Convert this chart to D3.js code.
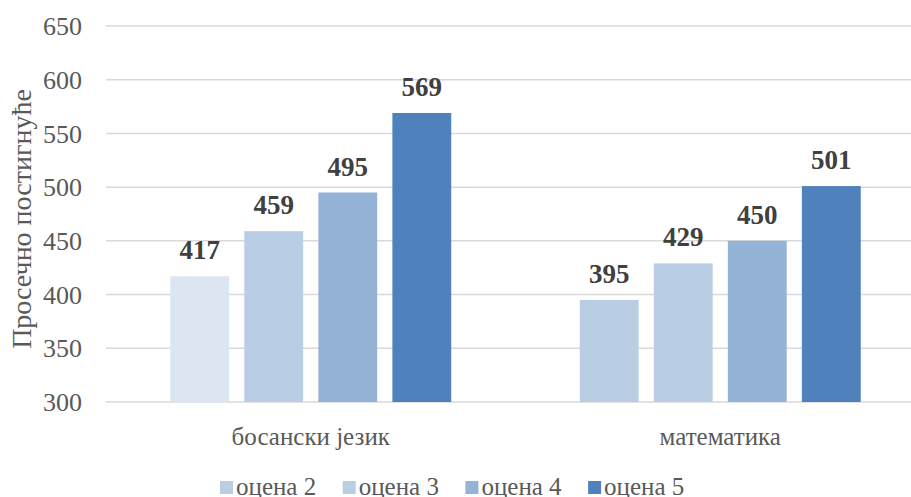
<!DOCTYPE html>
<html>
<head>
<meta charset="utf-8">
<script src="https://cdn.jsdelivr.net/npm/d3@7"></script>
</head>
<body style="margin:0">
<script>
const categories = ['босански језик', 'математика'];
const seriesNames = ['оцена 2', 'оцена 3', 'оцена 4', 'оцена 5'];
const ocena2 = [417, 395];
const ocena3 = [459, 429];
const ocena4 = [495, 450];
const ocena5 = [569, 501];
const yTicks = [300, 350, 400, 450, 500, 550, 600, 650];
const yTitle = 'Просечно постигнуће';

const seriesValues = [ocena2, ocena3, ocena4, ocena5];
const colors = ['#b9cde5', '#b9cde5', '#95b3d7', '#4f81bd'];
// first bar of the first group is lighter in the original
const pointColor = (s, c) => (s === 0 && c === 0) ? '#dce6f2' : colors[s];

const width = 911, height = 497;
const plot = { left: 106, right: 925, top: 26, bottom: 402 };
const serif = '"Liberation Serif", "Times New Roman", Tinos';

const svg = d3.select('body').append('svg')
    .attr('width', width)
    .attr('height', height)
    .style('display', 'block')
    .style('font-family', serif);

const y = d3.scaleLinear()
    .domain([300, 650])
    .range([plot.bottom, plot.top]);

const x0 = d3.scaleBand()
    .domain(categories)
    .range([plot.left, plot.right]);

const groupWidth = 281;
const x1 = d3.scaleBand()
    .domain(d3.range(seriesNames.length))
    .range([(x0.bandwidth() - groupWidth) / 2, (x0.bandwidth() + groupWidth) / 2])
    .paddingInner(0.205);

// gridlines
svg.append('g')
    .selectAll('line')
    .data(yTicks)
    .join('line')
    .attr('x1', plot.left)
    .attr('x2', plot.right)
    .attr('y1', d => y(d))
    .attr('y2', d => y(d))
    .attr('stroke', '#d9d9d9')
    .attr('stroke-width', 1.5);

// tick labels
svg.append('g')
    .selectAll('text')
    .data(yTicks)
    .join('text')
    .attr('x', 82)
    .attr('y', d => y(d))
    .attr('dy', '0.35em')
    .attr('text-anchor', 'end')
    .attr('font-size', 26)
    .style('font-family', serif)
    .attr('fill', '#595959')
    .text(d => d);

// y title
svg.append('text')
    .attr('transform', `translate(31, 219) rotate(-90)`)
    .attr('text-anchor', 'middle')
    .attr('font-size', 28)
    .style('font-family', serif)
    .attr('fill', '#595959')
    .text(yTitle);

const cells = [];
seriesValues.forEach((vals, s) => {
    vals.forEach((v, c) => cells.push({ s, c, v }));
});

const bars = svg.append('g');
bars.selectAll('rect')
    .data(cells)
    .join('rect')
    .attr('x', d => x0(categories[d.c]) + x1(d.s))
    .attr('y', d => y(d.v))
    .attr('width', x1.bandwidth())
    .attr('height', d => y(300) - y(d.v))
    .attr('fill', d => pointColor(d.s, d.c));

bars.selectAll('text')
    .data(cells)
    .join('text')
    .attr('x', d => x0(categories[d.c]) + x1(d.s) + x1.bandwidth() / 2)
    .attr('y', d => y(d.v) - 17)
    .attr('text-anchor', 'middle')
    .attr('font-size', 27)
    .attr('font-weight', 'bold')
    .style('font-family', serif)
    .attr('fill', '#404040')
    .text(d => d.v);

// category labels
svg.append('g')
    .selectAll('text')
    .data(categories)
    .join('text')
    .attr('x', d => x0(d) + x0.bandwidth() / 2)
    .attr('y', 445)
    .attr('text-anchor', 'middle')
    .attr('font-size', 25)
    .style('font-family', serif)
    .attr('fill', '#595959')
    .text(d => d);

// legend
const legend = svg.append('g')
    .selectAll('g')
    .data(seriesNames)
    .join('g')
    .attr('transform', (d, i) => `translate(${220 + i * 122.7}, 0)`);

legend.append('rect')
    .attr('x', 0)
    .attr('y', 481)
    .attr('width', 13)
    .attr('height', 13)
    .attr('fill', (d, i) => colors[i]);

legend.append('text')
    .attr('x', 16)
    .attr('y', 495)
    .attr('font-size', 25)
    .style('font-family', serif)
    .attr('fill', '#595959')
    .text(d => d);
</script>
</body>
</html>
